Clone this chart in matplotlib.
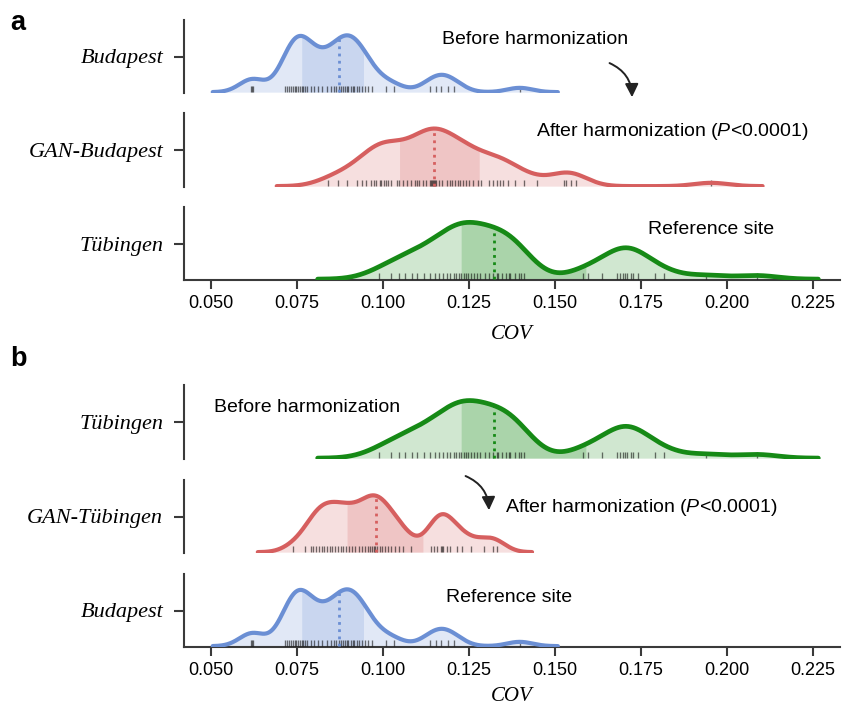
import numpy as np
import matplotlib
matplotlib.use("Agg")
import matplotlib.pyplot as plt
import seaborn as sns
from matplotlib.patches import FancyArrowPatch

plt.rcParams['font.family'] = ['Liberation Sans', 'DejaVu Sans']
plt.rcParams['mathtext.fontset'] = 'custom'
plt.rcParams['mathtext.rm'] = 'Liberation Sans'
plt.rcParams['mathtext.it'] = 'Liberation Sans:italic'

budapest = [0.0616, 0.0620, 0.0623,
            0.0714, 0.0721, 0.0728, 0.0733, 0.0738, 0.0743, 0.0748, 0.0753, 0.0758, 0.0763,
            0.0768, 0.0774, 0.0780, 0.0790, 0.0800, 0.0810, 0.0822, 0.0836,
            0.0848, 0.0856, 0.0864, 0.0871, 0.0877, 0.0883, 0.0888, 0.0895, 0.0899,
            0.0907, 0.0912, 0.0917, 0.0923, 0.0930, 0.0940, 0.0948, 0.0955, 0.0969,
            0.1008, 0.1032, 0.1135, 0.1155, 0.1168, 0.1189, 0.1207, 0.1397]
gan_budapest = [0.0841, 0.0870, 0.0895, 0.0925, 0.0938, 0.0950, 0.0965, 0.0975, 0.0980,
                0.0992, 0.0995, 0.1003, 0.1010, 0.1015, 0.1022, 0.1040, 0.1047, 0.1057,
                0.1070, 0.1082, 0.1092, 0.1098, 0.1105, 0.1115, 0.1125, 0.1135, 0.1138,
                0.1142, 0.1145, 0.1148, 0.1152, 0.1155, 0.1163, 0.1172, 0.1185, 0.1195,
                0.1200, 0.1210, 0.1218, 0.1225, 0.1232, 0.1240, 0.1250, 0.1262, 0.1275,
                0.1285, 0.1307, 0.1320, 0.1330, 0.1340, 0.1348, 0.1362, 0.1384, 0.1409,
                0.1448, 0.1525, 0.1532, 0.1545, 0.1560, 0.1953]
tubingen = [0.0987, 0.1022, 0.1045, 0.1065, 0.1083, 0.1100, 0.1118, 0.1135, 0.1150, 0.1162,
            0.1175, 0.1186, 0.1196, 0.1205, 0.1213, 0.1220, 0.1227, 0.1234, 0.1241, 0.1248,
            0.1255, 0.1263, 0.1272, 0.1283, 0.1295, 0.1308, 0.1320, 0.1330, 0.1333, 0.1346,
            0.1358, 0.1365, 0.1370, 0.1383, 0.1395, 0.1400, 0.1410,
            0.1581, 0.1596, 0.1637, 0.1680, 0.1690, 0.1698, 0.1702, 0.1708, 0.1720,
            0.1727, 0.1741, 0.1791, 0.1816, 0.1940, 0.2088]
gan_tubingen = [0.0738, 0.0772, 0.0790, 0.0797, 0.0805, 0.0815, 0.0823, 0.0828, 0.0836,
                0.0845, 0.0852, 0.0860, 0.0870, 0.0878, 0.0885, 0.0893, 0.0902, 0.0910,
                0.0918, 0.0930, 0.0940, 0.0948, 0.0955, 0.0962, 0.0968, 0.0974, 0.0978,
                0.0983, 0.0990, 0.0998, 0.1005, 0.1015, 0.1022, 0.1035, 0.1045, 0.1058,
                0.1080, 0.1140, 0.1148, 0.1158, 0.1168, 0.1170, 0.1175, 0.1185, 0.1194,
                0.1215, 0.1229, 0.1255, 0.1292, 0.1320, 0.1331]

# quartiles (Q1, median, Q3) as shown by the shaded band and dotted line
budapest_q = [0.0763, 0.0871, 0.0944]
gan_budapest_q = [0.1047, 0.1148, 0.1280]
tubingen_q = [0.1227, 0.1322, 0.1590]
gan_tubingen_q = [0.0895, 0.0980, 0.1116]

# KDE bandwidths (COV units)
budapest_bw = 0.0037
gan_budapest_bw = 0.0050
tubingen_bw = 0.0059
gan_tubingen_bw = 0.0034

xticks = [0.050, 0.075, 0.100, 0.125, 0.150, 0.175, 0.200, 0.225]
xtick_labels = ['0.050', '0.075', '0.100', '0.125', '0.150', '0.175', '0.200', '0.225']

BLUE = '#6b8fd4'
RED = '#d65f5f'
GREEN = '#168a16'

groups = {
    'Budapest': (budapest, budapest_q, budapest_bw, BLUE, 3.0),
    'GAN-Budapest': (gan_budapest, gan_budapest_q, gan_budapest_bw, RED, 3.0),
    'Tübingen': (tubingen, tubingen_q, tubingen_bw, GREEN, 3.4),
    'GAN-Tübingen': (gan_tubingen, gan_tubingen_q, gan_tubingen_bw, RED, 3.0),
}
panel_a_rows = ['Budapest', 'GAN-Budapest', 'Tübingen']
panel_b_rows = ['Tübingen', 'GAN-Tübingen', 'Budapest']

# ---------------- figure ----------------
W, H = 846, 707
fig = plt.figure(figsize=(W / 100, H / 100), dpi=100)

X_LEFT, X_RIGHT = 184, 840
XLIM = (0.04215, 0.2328)
SPINE_C = '#3a3a3a'


def add_row(top, bottom):
    return fig.add_axes([X_LEFT / W, 1 - bottom / H, (X_RIGHT - X_LEFT) / W, (bottom - top) / H])


def draw_row(ax, name, is_bottom, labelpad=10):
    samples, q, bw, color, lw = groups[name]
    samples = np.asarray(samples)
    factor = bw / np.std(samples, ddof=1)
    sns.kdeplot(x=samples, bw_method=factor, cut=3, gridsize=800, ax=ax,
                color=color, lw=lw, zorder=6, solid_capstyle='round')
    xs, ys = ax.lines[-1].get_data()
    xs = np.asarray(xs)
    ys = np.asarray(ys)
    ax.fill_between(xs, 0, ys, color=color, alpha=0.2, lw=0, zorder=1)
    m = (xs >= q[0]) & (xs <= q[2])
    ax.fill_between(xs[m], 0, ys[m], color=color, alpha=0.2, lw=0, zorder=2)
    ymax = ys.max()
    ax.vlines(samples, 0, 0.115 * ymax, color='black', alpha=0.55, lw=0.95, zorder=3)
    ax.plot([q[1], q[1]], [0, np.interp(q[1], xs, ys)], ls=(0, (1, 1.6)),
            color=color, lw=2.0, zorder=5)
    lo, hi = -0.015 * ymax, 1.27 * ymax
    ax.set_ylim(lo, hi)
    ax.set_xlim(*XLIM)
    ax.set_ylabel('')
    ax.set_xlabel('')
    ax.set_yticks([(lo + hi) / 2])
    ax.set_yticklabels([name], fontfamily='Liberation Serif', fontstyle='italic', fontsize=16)
    ax.tick_params(axis='y', length=7, width=1.5, color=SPINE_C, pad=8)
    for s in ['top', 'right']:
        ax.spines[s].set_visible(False)
    ax.spines['left'].set_color(SPINE_C)
    ax.spines['left'].set_linewidth(1.5)
    ax.patch.set_alpha(0)
    if is_bottom:
        ax.spines['bottom'].set_color(SPINE_C)
        ax.spines['bottom'].set_linewidth(1.5)
        ax.set_xticks(xticks)
        ax.set_xticklabels(xtick_labels, fontsize=13)
        ax.tick_params(axis='x', length=6.5, width=1.5, color=SPINE_C, pad=4)
        ax.set_xlabel('COV', fontfamily='Liberation Serif', fontstyle='italic',
                      fontsize=15, labelpad=labelpad)
    else:
        ax.spines['bottom'].set_visible(False)
        ax.set_xticks([])


rows_a = [(20, 93), (113, 187), (207, 280)]
rows_b = [(385, 459), (480, 553), (574, 647)]
for i, (name, (t, b)) in enumerate(zip(panel_a_rows, rows_a)):
    draw_row(add_row(t, b), name, i == 2, labelpad=10)
for i, (name, (t, b)) in enumerate(zip(panel_b_rows, rows_b)):
    draw_row(add_row(t, b), name, i == 2, labelpad=6)


def fx(px):
    return px / W


def fy(py):
    return 1 - py / H


# panel letters
fig.text(fx(10), fy(30), 'a', fontsize=19.5, fontweight='bold', va='baseline', ha='left')
fig.text(fx(10), fy(366), 'b', fontsize=19.5, fontweight='bold', va='baseline', ha='left')

# annotations
ann = dict(fontsize=14, va='center', ha='left')
fig.text(fx(442), fy(40), 'Before harmonization', **ann)
fig.text(fx(536), fy(131), r'After harmonization ($P$<0.0001)', **ann)
fig.text(fx(648), fy(230), 'Reference site', **ann)
fig.text(fx(214), fy(407), 'Before harmonization', **ann)
fig.text(fx(505), fy(507), r'After harmonization ($P$<0.0001)', **ann)
fig.text(fx(446), fy(597), 'Reference site', **ann)

for (x0, y0, x1, y1) in [(607, 62, 632, 100), (463, 475, 489, 513)]:
    arr = FancyArrowPatch((fx(x0), fy(y0)), (fx(x1), fy(y1)), transform=fig.transFigure,
                          connectionstyle='arc3,rad=-0.35', arrowstyle='-|>,head_length=8,head_width=4',
                          color='#222222', lw=1.4, mutation_scale=1)
    fig.patches.append(arr)

fig.savefig('out.png', dpi=100)
